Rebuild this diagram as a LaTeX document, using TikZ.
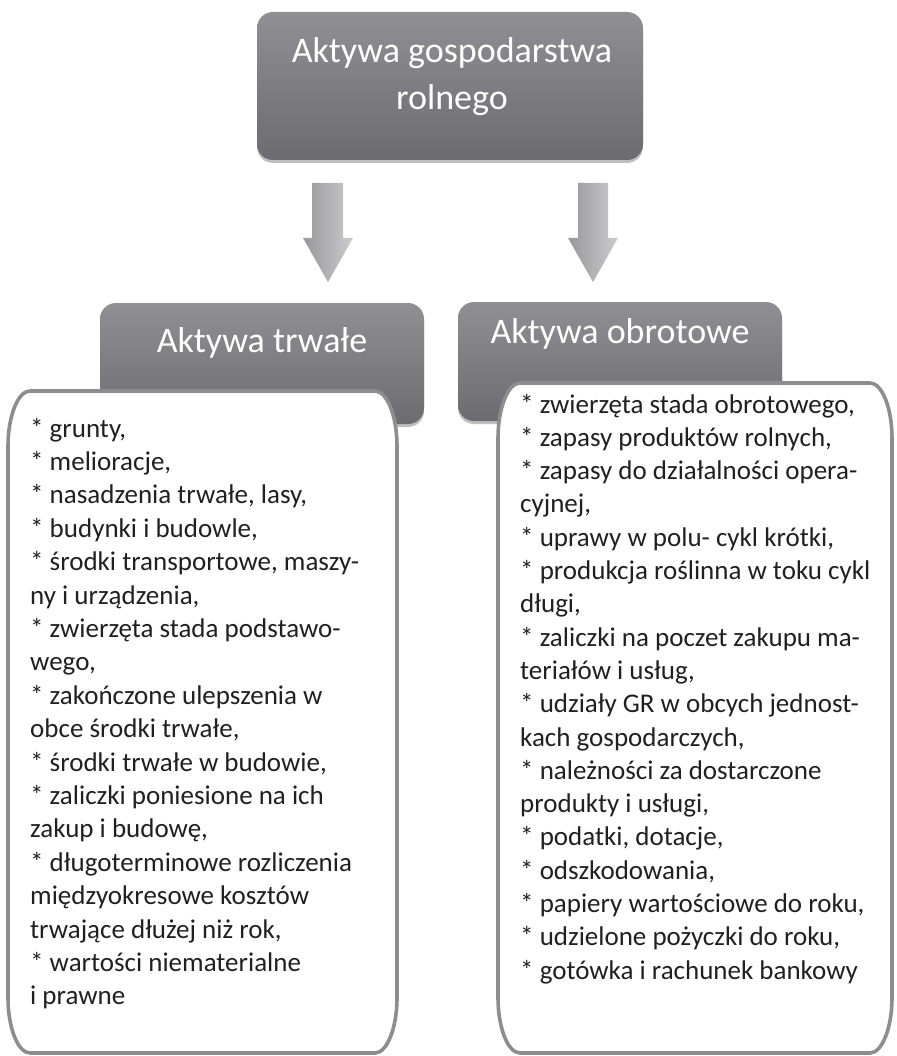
\documentclass[tikz,border=0pt]{standalone}
\usepackage{fontspec}
\setmainfont{Carlito}
\definecolor{hdtop}{RGB}{144,144,148}
\definecolor{hdbot}{RGB}{108,108,112}
\definecolor{bord}{RGB}{141,141,145}
\definecolor{arl}{RGB}{152,152,156}
\definecolor{arr}{RGB}{204,204,207}
\definecolor{shad}{RGB}{190,190,193}
\definecolor{txt}{RGB}{35,31,32}
\begin{document}
\begin{tikzpicture}[x=1pt,y=-1pt,
  graybox/.style={rounded corners=16pt, top color=hdtop, bottom color=hdbot, draw=none},
  shadowbox/.style={fill=shad, rounded corners=16pt},
  blockarrow/.style={left color=arl, right color=arr, draw=none},
  whitebox/.style={fill=white, draw=bord, line width=3.6pt},
  headtext/.style={text=white, inner sep=0pt, anchor=base, font=\fontsize{36}{47}\selectfont},
  itemtext/.style={text=txt, inner sep=0pt, anchor=base west, font=\fontsize{27}{33}\selectfont}
]
\useasboundingbox (0,0) rectangle (896,1056);

% top box
\fill[shadowbox] (257,15) rectangle (643,163);
\shade[graybox] (257,12) rectangle (643,160);
\node[headtext] (t1) at (452,63) {Aktywa gospodarstwa};
\node[headtext] (t2) at (452,110) {rolnego};

% arrows
\shade[blockarrow] (312,183) -- (343,183) -- (343,238) -- (353,238) -- (328,282) -- (303,238) -- (312,238) -- cycle;
\shade[blockarrow] (578,183) -- (608,183) -- (608,238) -- (618,238) -- (593,282) -- (568,238) -- (578,238) -- cycle;

% header boxes
\fill[shadowbox] (100,306) rectangle (424,427);
\shade[graybox] (100,303) rectangle (424,424);
\node[headtext] (h1) at (262,352) {Aktywa trwałe};
\fill[shadowbox] (458,305) rectangle (782,424);
\shade[graybox] (458,302) rectangle (782,421);
\node[headtext] (h2) at (620,343) {Aktywa obrotowe};

% white boxes
\draw[whitebox] (8,446) .. controls (8,416) and (18,391) .. (30,391) -- (375,391)
  .. controls (387,391) and (397,416) .. (397,446) -- (397,998)
  .. controls (397,1028) and (387,1053) .. (375,1053) -- (30,1053)
  .. controls (18,1053) and (8,1028) .. (8,998) -- cycle;
\draw[whitebox] (498,438) .. controls (498,408) and (508,383) .. (520,383) -- (870,383)
  .. controls (882,383) and (892,408) .. (892,438) -- (892,998)
  .. controls (892,1028) and (882,1053) .. (870,1053) -- (520,1053)
  .. controls (508,1053) and (498,1028) .. (498,998) -- cycle;

\foreach \t [count=\i] in {
  {* grunty,},
  {* melioracje,},
  {* nasadzenia trwałe, lasy,},
  {* budynki i budowle,},
  {* środki transportowe, maszy-},
  {ny i urządzenia,},
  {* zwierzęta stada podstawo-},
  {wego,},
  {* zakończone ulepszenia w},
  {obce środki trwałe,},
  {* środki trwałe w budowie,},
  {* zaliczki poniesione na ich},
  {zakup i budowę,},
  {* długoterminowe rozliczenia},
  {międzyokresowe kosztów},
  {trwające dłużej niż rok,},
  {* wartości niematerialne},
  {i prawne}}
  \node[itemtext] (L\i) at (30,{437+33.4*(\i-1)}) {\t};

\foreach \t [count=\i] in {
  {* zwierzęta stada obrotowego,},
  {* zapasy produktów rolnych,},
  {* zapasy do działalności opera-},
  {cyjnej,},
  {* uprawy w polu- cykl krótki,},
  {* produkcja roślinna w toku cykl},
  {długi,},
  {* zaliczki na poczet zakupu ma-},
  {teriałów i usług,},
  {* udziały GR w obcych jednost-},
  {kach gospodarczych,},
  {* należności za dostarczone},
  {produkty i usługi,},
  {* podatki, dotacje,},
  {* odszkodowania,},
  {* papiery wartościowe do roku,},
  {* udzielone pożyczki do roku,},
  {* gotówka i rachunek bankowy}}
  \node[itemtext] (R\i) at (520,{413+33.3*(\i-1)}) {\t};
\end{tikzpicture}
\end{document}
